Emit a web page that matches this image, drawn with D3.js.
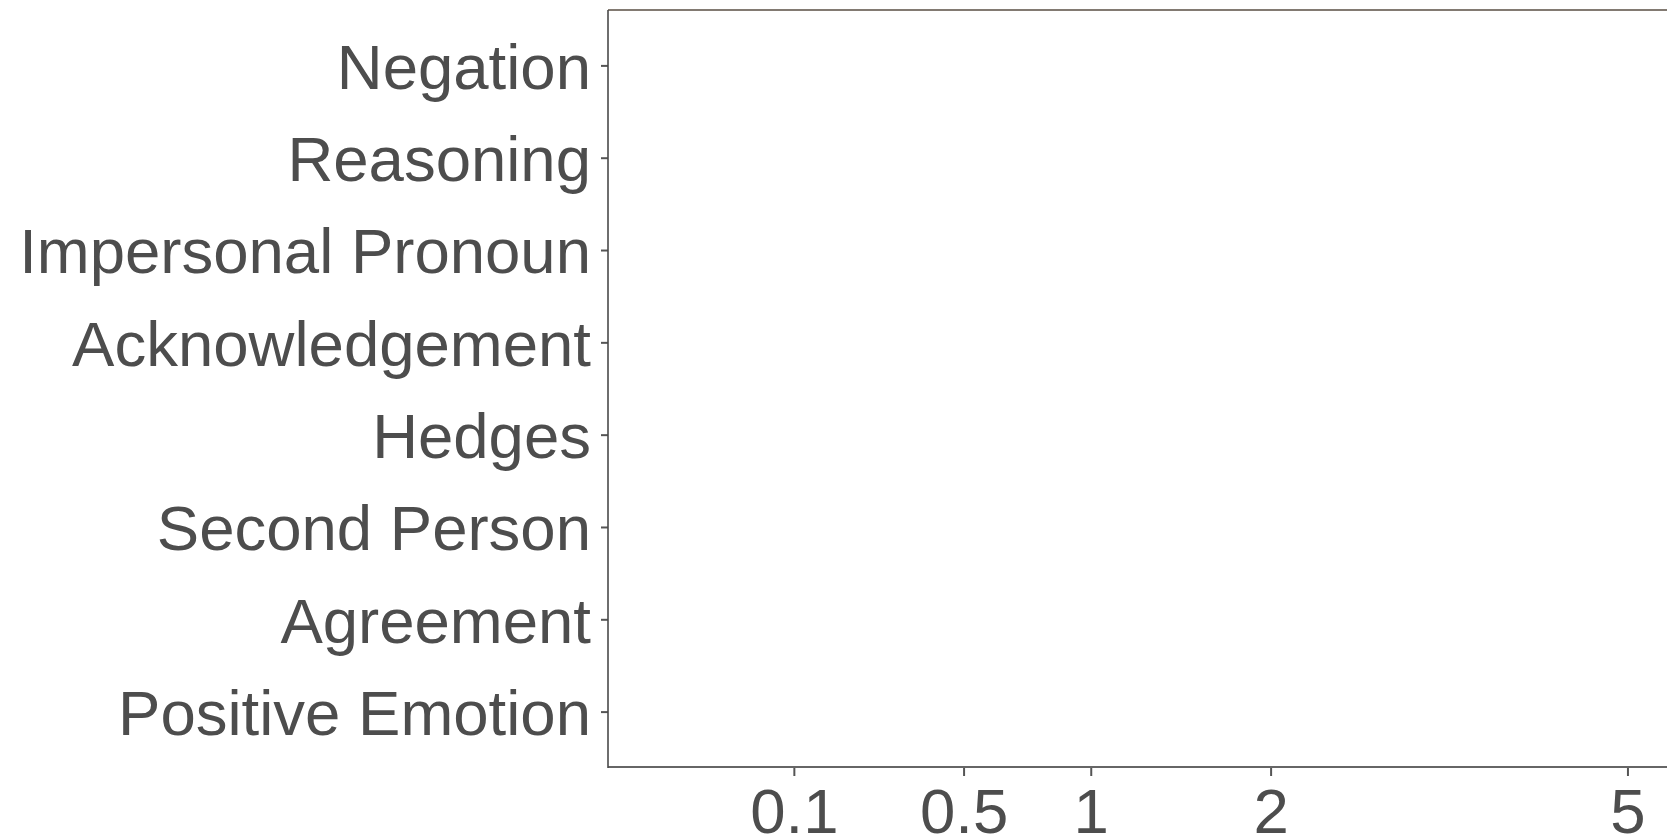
<!DOCTYPE html>
<html>
<head>
<meta charset="utf-8">
<script src="https://cdn.jsdelivr.net/npm/d3@7"></script>
<style>
  html, body { margin: 0; padding: 0; background: #ffffff; overflow: hidden; }
  svg { display: block; }
  .tick text { font-family: "Liberation Sans", Arial, sans-serif; font-size: 63.5px; fill: #4d4d4d; }
</style>
</head>
<body>
<svg id="chart" width="1667" height="838"></svg>
<script>
// Linguistic feature categories, listed bottom to top
const categories = [
  "Positive Emotion",
  "Agreement",
  "Second Person",
  "Hedges",
  "Acknowledgement",
  "Impersonal Pronoun",
  "Reasoning",
  "Negation"
];

// Horizontal axis limits and break labels (square-root scale)
const xDomain = [0, 5];
const xTicks = [0.1, 0.5, 1, 2, 5];

const W = 1667, H = 838;
const panel = { left: 608, right: 1676, top: 10, bottom: 767 };

const svg = d3.select("#chart");

// sqrt scale with 5% expansion applied in transformed space
const s0 = Math.sqrt(xDomain[0]), s1 = Math.sqrt(xDomain[1]);
const expand = 0.05 * (s1 - s0);
const pxPerUnit = (panel.right - panel.left) / ((s1 - s0) + 2 * expand);
const x = d3.scaleSqrt()
  .domain(xDomain)
  .range([panel.left + expand * pxPerUnit, panel.left + (expand + s1 - s0) * pxPerUnit]);

const y = d3.scalePoint()
  .domain(categories)
  .range([panel.bottom, panel.top])
  .padding(0.6);

// Top edge of the panel
svg.append("line")
  .attr("x1", panel.left).attr("x2", W)
  .attr("y1", panel.top).attr("y2", panel.top)
  .attr("stroke", "#827a72").attr("stroke-width", 2);

// Bottom axis
const xAxis = svg.append("g")
  .attr("transform", `translate(0,${panel.bottom})`)
  .call(d3.axisBottom(x).tickValues(xTicks).tickFormat(d3.format("")).tickSize(9).tickPadding(10).tickSizeOuter(0));
xAxis.select(".domain").remove();
xAxis.selectAll(".tick line").attr("stroke", "#555").attr("stroke-width", 2);
xAxis.selectAll(".tick text").attr("dy", null).attr("y", 66);

// Left axis
const yAxis = svg.append("g")
  .attr("transform", `translate(${panel.left},0)`)
  .call(d3.axisLeft(y).tickSize(7).tickPadding(10).tickSizeOuter(0));
yAxis.select(".domain").remove();
yAxis.selectAll(".tick line").attr("stroke", "#555").attr("stroke-width", 2);
yAxis.selectAll(".tick text").attr("dy", "0.36em");

// Axis lines
svg.append("line")
  .attr("x1", panel.left).attr("x2", W)
  .attr("y1", panel.bottom).attr("y2", panel.bottom)
  .attr("stroke", "#666").attr("stroke-width", 2);
svg.append("line")
  .attr("x1", panel.left).attr("x2", panel.left)
  .attr("y1", panel.top).attr("y2", panel.bottom + 1)
  .attr("stroke", "#4a4a4a").attr("stroke-width", 1.6);
</script>
</body>
</html>
